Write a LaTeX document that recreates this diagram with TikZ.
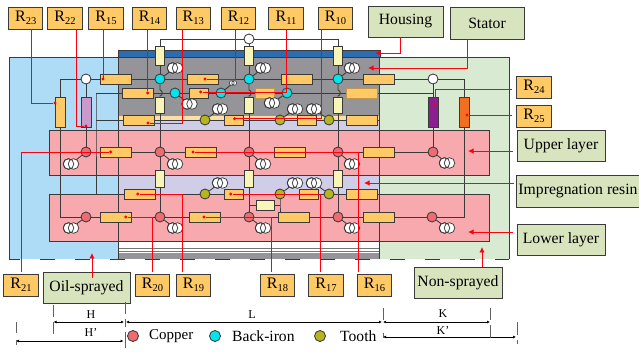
\documentclass[tikz,border=0pt]{standalone}
\usepackage{fontspec}
\setmainfont{Liberation Serif}
\usetikzlibrary{arrows.meta,calc}
\pgfdeclarelayer{regions}
\pgfdeclarelayer{wires}
\pgfsetlayers{regions,wires,main}
\definecolor{oilblue}{HTML}{AEDCF6}
\definecolor{drygreen}{HTML}{D8EAD2}
\definecolor{coilpink}{HTML}{F8A9AE}
\definecolor{resinlilac}{HTML}{CFCDE8}
\definecolor{coregray}{HTML}{959599}
\definecolor{housingblue}{HTML}{2A6DB3}
\definecolor{resorange}{HTML}{FFC966}
\definecolor{respale}{HTML}{F9F5B8}
\definecolor{labelgreen}{HTML}{D8E4BE}
\definecolor{copperc}{HTML}{EE6B72}
\definecolor{ironc}{HTML}{00E5EE}
\definecolor{toothc}{HTML}{B5B520}
\definecolor{wirec}{HTML}{3A3A3A}
\definecolor{redc}{HTML}{FF0010}
\definecolor{resmauve}{HTML}{CC99CC}
\definecolor{respurple}{HTML}{8A1F8F}
\definecolor{resdeep}{HTML}{F26F21}
\tikzset{
  x=1pt,y=-1pt,
  wire/.style={draw=wirec,line width=.85pt},
  edge line/.style={draw=wirec,line width=.9pt},
  resbox/.style={rectangle,draw=wirec,line width=.95pt,fill=resorange,inner sep=0pt,minimum width=31,minimum height=10},
  ressmall/.style={resbox,minimum width=19},
  resfaint/.style={draw=resorange!75!black,line width=.6pt},
  resvert/.style={rectangle,draw=wirec,line width=.95pt,fill=respale,inner sep=0pt,minimum width=9,minimum height=17},
  restall/.style={rectangle,draw=wirec,line width=.95pt,inner sep=0pt,minimum width=10,minimum height=30},
  junction/.style={circle,draw=wirec,line width=.85pt,inner sep=0pt,minimum size=10},
  copperj/.style={junction,fill=copperc},
  ironj/.style={junction,fill=ironc},
  toothj/.style={junction,fill=toothc},
  openj/.style={junction,fill=white},
  ringanchor/.style={circle,inner sep=0pt,minimum size=11},
  ringline/.style={draw=wirec,line width=.75pt,fill=white},
  rlabel/.style={rectangle,draw=wirec,line width=.95pt,fill=resorange,inner sep=0pt,minimum width=34.5,minimum height=22},
  glabel/.style={rectangle,draw=wirec,line width=.95pt,fill=labelgreen,inner sep=0pt,font=\fontsize{15.7}{16}\selectfont},
  reddot/.style={circle,fill=redc,inner sep=0pt,minimum size=3.4},
  leader/.style={draw=redc,line width=.85pt},
  callout/.style={draw=redc,line width=.95pt,-{Latex[length=5.5pt,width=5.5pt]}},
  dim/.style={draw=black,line width=.65pt,{Latex[length=3pt,width=3pt]}-{Latex[length=3pt,width=3pt]}},
  tickm/.style={draw=wirec!80,line width=.8pt},
  dimtext/.style={inner sep=0pt,font=\fontsize{12}{13}\selectfont},
  legendtext/.style={inner sep=0pt,anchor=west},
}
\newcommand\rtext[1]{\fontsize{16}{16}\selectfont R{\fontsize{10.5}{10.5}\selectfont\raisebox{-2.6pt}{#1}}}
\newcommand\lossring[3]{%
  \node[ringanchor] (#1) at (#2,#3) {};
  \draw[ringline] (#2-2.5,#3) circle (5.3);
  \draw[ringline] (#2+2.5,#3) circle (5.3);
  \draw[draw=wirec,line width=.75pt] (#2-2.5,#3) circle (5.3);
}
\begin{document}
\begin{tikzpicture}
\useasboundingbox (0,0) rectangle (639,352);
% ---- regions
\begin{pgfonlayer}{regions}
  \fill[oilblue] (9,57) rectangle (118,259);
  \fill[drygreen] (379,57) rectangle (509,259);
  \fill[coregray] (118,57) rectangle (379,116.5);
  \fill[respale!70!orange!70!white] (118,116.5) rectangle (379,120);
  \fill[resinlilac] (118,120) rectangle (379,130);
  \fill[resinlilac] (118,175) rectangle (379,194);
  \fill[white] (118,241) rectangle (379,253);
  \fill[coregray] (118,253) rectangle (379,259);
  \draw[draw=wirec!70,line width=.9pt] (118,248) -- (379,248) (118,251) -- (379,251);
  \draw[edge line,fill=coilpink] (49,130) rectangle (489,175);
  \draw[edge line,fill=coilpink] (49,194) rectangle (489,241);
  \draw[edge line,fill=housingblue] (118,50) rectangle (380,57);
  \draw[edge line] (118,57) -- (9,57) -- (9,259);
  \draw[edge line] (380,57) -- (509,57) -- (509,259);
  \draw[edge line,dash pattern=on 15pt off 20pt,dash phase=4pt] (9,259) -- (509,259);
\end{pgfonlayer}
\begin{pgfonlayer}{wires}
  \draw[edge line] (118,57) -- (118,259);
  \draw[edge line] (379,57) -- (379,259);
\end{pgfonlayer}
% ---- resistors
\node[resbox] (r11) at (115.5,79) {};
\node[resbox] (r12) at (202.5,79) {};
\node[resbox] (r13) at (296.5,79) {};
\node[resbox] (r14) at (379,79) {};
\node[resbox] (r21) at (137.5,93) {};
\node[ressmall] (r22) at (199,93) {};
\node[ressmall,resfaint] (r23) at (264.5,93) {};
\node[resbox,resfaint] (r24) at (361.5,93) {};
\node[resbox] (r31) at (139,120) {};
\node[ressmall] (r32) at (233.5,120) {};
\node[ressmall] (r33) at (307,120) {};
\node[resbox] (r34) at (361.5,120) {};
\node[resbox] (u1) at (115.5,152) {};
\node[resbox] (u2) at (201,152) {};
\node[resbox] (u3) at (289.5,152) {};
\node[resbox] (u4) at (378.5,152) {};
\node[resbox] (m1) at (139.5,194) {};
\node[ressmall] (m2) at (233.5,194) {};
\node[ressmall] (m3) at (308.5,194) {};
\node[resbox] (m4) at (361.5,194) {};
\node[resbox] (l1) at (115.5,217) {};
\node[resbox] (l2) at (204.5,217) {};
\node[resbox] (l3) at (293.5,217) {};
\node[resbox] (l4) at (378.5,217) {};
\node[resvert,minimum height=18.5] (vt1) at (160,56) {};
\node[resvert,minimum height=18.5] (vt2) at (249,56) {};
\node[resvert,minimum height=18.5] (vt3) at (338,56) {};
\node[resvert,minimum height=16] (vm1) at (160,105) {};
\node[resvert,minimum height=16] (vm2) at (249,105) {};
\node[resvert,minimum height=16] (vm3) at (338,105) {};
\node[resvert] (vb1) at (160,178.5) {};
\node[resvert] (vb2) at (249,178.5) {};
\node[resvert] (vb3) at (338,178.5) {};
\node[resbox,fill=respale,minimum width=18] (hb) at (265,205) {};
\node[restall,fill=resorange] (ra) at (60,112) {};
\node[restall,fill=resmauve] (rb) at (86,112) {};
\node[restall,fill=respurple] (rc) at (433,112) {};
\node[restall,fill=resdeep] (rd) at (464,112) {};
% ---- junctions
\node[openj] (wt) at (249,39) {};
\node[openj] (wl) at (86,79) {};
\node[openj] (wr) at (433,79) {};
\node[ironj] (i1) at (160,79) {};
\node[ironj] (i2) at (249,79) {};
\node[ironj] (i3) at (338,79) {};
\node[ironj] (i4) at (175,93) {};
\node[ironj] (i5) at (221,93) {};
\node[ironj] (i6) at (287,93) {};
\node[toothj] (t1) at (205,120) {};
\node[toothj] (t2) at (280,120) {};
\node[toothj] (t3) at (329,120) {};
\node[toothj] (t4) at (205,194) {};
\node[toothj] (t5) at (280,194) {};
\node[toothj] (t6) at (329,194) {};
\node[copperj] (cu0) at (86,152) {};
\node[copperj] (cu1) at (160,152) {};
\node[copperj] (cu2) at (249,152) {};
\node[copperj] (cu3) at (338,152) {};
\node[copperj] (cu4) at (433,152) {};
\node[copperj] (cl0) at (86,217) {};
\node[copperj] (cl1) at (160,217) {};
\node[copperj] (cl2) at (249,217) {};
\node[copperj] (cl3) at (338,217) {};
\node[copperj] (cl4) at (432,217) {};
% ---- wire corners
\coordinate (cnA) at (96,93);
\coordinate (cnB) at (96,120);
\coordinate (cnC) at (96,194);
\coordinate (cnD) at (433,93);
\coordinate (cnE) at (379,120);
\coordinate (cnF) at (379,194);
\coordinate (cnG) at (280,205);
\coordinate (cnH) at (249,205);
\coordinate (cnI) at (280,212);
% ---- wires
\begin{pgfonlayer}{wires}
  \draw[wire] (vt1.north) |- (wt);
  \draw[wire] (wt) -| (vt3.north);
  \draw[wire] (wt) -- (vt2.north);
  \draw[wire] (vt1) -- (i1);
  \draw[wire] (vt2) -- (i2);
  \draw[wire] (vt3) -- (i3);
  \draw[wire] (i1) -- (160,90) .. controls (163,90.5) and (163,95.5) .. (160,96) -- (vm1.north);
  \draw[wire] (i2) -- (249,90) .. controls (252,90.5) and (252,95.5) .. (249,96) -- (vm2.north);
  \draw[wire] (i3) -- (338,90) .. controls (341,90.5) and (341,95.5) .. (338,96) -- (vm3.north);
  \draw[wire] (vm1) -- (vb1) -- (cl1);
  \draw[wire] (vm2) -- (vb2) -- (cl2);
  \draw[wire] (vm3) -- (vb3) -- (cl3);
  % row 1
  \draw[wire] (ra.north) |- (wl);
  \draw[wire] (wl) -- (r11);
  \draw[wire] (r11) -- (i1) -- (r12) -- (i2) -- (r13) -- (i3) -- (r14) -- (wr);
  \draw[wire] (wr) -| (rd.north);
  \draw[wire] (wl) -- (rb.north);
  \draw[wire] (wr) -- (rc.north);
  % row 2
  \draw[wire] (cnA) -- (r21) -- (i4) -- (r22) -- (i5) -- (r23) -- (i6) -- (r24) -- (cnD);
  \draw[wire] (cnA) -- (cnB) -- (cnC);
  % row 3
  \draw[wire] (cnB) -- (r31) -- (t1) -- (r32) -- (t2) -- (r33) -- (t3) -- (r34) -- (cnE);
  % upper layer
  \draw[wire] (rb.south) -- (cu0);
  \draw[wire] (rc.south) -- (cu4);
  \draw[wire] (cu0) -- (u1) -- (cu1) -- (u2) -- (cu2) -- (u3) -- (cu3) -- (u4) -- (cu4);
  % middle row
  \draw[wire] (m1) -- (t4) -- (m2) -- (t5) -- (m3) -- (t6) -- (m4) -- (cnF);
  \draw[wire] (cnH) -- (hb) -- (cnG);
  \draw[wire] (t5) -- (cnG) -- (cnI);
  % lower layer
  \draw[wire] (ra.south) |- (cl0);
  \draw[wire] (rd.south) |- (cl4);
  \draw[wire] (cl0) -- (l1) -- (cl1) -- (l2) -- (cl2) -- (l3) -- (cl3) -- (l4) -- (cl4);
\end{pgfonlayer}
% ---- loss sources
\lossring{s1}{175}{68}
\lossring{s2}{189.5}{104}
\lossring{s3}{220}{109}
\lossring{s5}{263}{68}
\lossring{s6}{272}{103}
\lossring{s7}{295}{109}
\lossring{s8}{314}{109}
\lossring{s9}{352}{68}
\lossring{s10}{71}{164}
\lossring{s11}{175}{164}
\lossring{s12}{263}{164}
\lossring{s13}{352}{164}
\lossring{s14}{447}{163}
\lossring{s15}{71}{228}
\lossring{s16}{175}{228}
\lossring{s17}{263}{228}
\lossring{s18}{352}{228}
\lossring{s19}{447}{228}
\lossring{s20}{220}{183}
\lossring{s21}{295}{183}
\lossring{s22}{314}{183}
\node[circle,inner sep=0pt,minimum size=5] (s4) at (233,83) {};
\draw[draw=wirec,line width=.6pt,fill=white] (231.8,83) circle (2.4) (234.2,83) circle (2.4);
\begin{pgfonlayer}{wires}
  \draw[wire] (i1) -- (s1);
  \draw[wire] (i4) -- (s2);
  \draw[wire] (t1) -- (s3);
  \draw[wire] (i5) -- (s4);
  \draw[wire] (i2) -- (s5);
  \draw[wire] (i6) -- (s6);
  \draw[wire] (t2) -- (s7);
  \draw[wire] (t3) -- (s8);
  \draw[wire] (i3) -- (s9);
  \draw[wire] (cu0) -- (s10);
  \draw[wire] (cu1) -- (s11);
  \draw[wire] (cu2) -- (s12);
  \draw[wire] (cu3) -- (s13);
  \draw[wire] (cu4) -- (s14);
  \draw[wire] (cl0) -- (s15);
  \draw[wire] (cl1) -- (s16);
  \draw[wire] (cl2) -- (s17);
  \draw[wire] (cl3) -- (s18);
  \draw[wire] (cl4) -- (s19);
  \draw[wire] (t4) -- (s20);
  \draw[wire] (t5) -- (s21);
  \draw[wire] (t6) -- (s22);
\end{pgfonlayer}
% ---- R labels
\node[rlabel] (R23) at (25.7,18) {\rtext{23}};
\node[rlabel] (R22) at (65,18) {\rtext{22}};
\node[rlabel] (R15) at (106,18) {\rtext{15}};
\node[rlabel] (R14) at (149.5,18) {\rtext{14}};
\node[rlabel] (R13) at (193.3,18) {\rtext{13}};
\node[rlabel] (R12) at (238.5,18) {\rtext{12}};
\node[rlabel] (R11) at (286,18) {\rtext{11}};
\node[rlabel] (R10) at (335.5,18) {\rtext{10}};
\node[rlabel] (R24) at (534,87) {\rtext{24}};
\node[rlabel] (R25) at (534,116) {\rtext{25}};
\node[rlabel] (R21) at (21,285) {\rtext{21}};
\node[rlabel] (R20) at (152.5,285) {\rtext{20}};
\node[rlabel] (R19) at (193.5,285) {\rtext{19}};
\node[rlabel] (R18) at (277.5,285) {\rtext{18}};
\node[rlabel] (R17) at (326,285) {\rtext{17}};
\node[rlabel] (R16) at (374.5,285) {\rtext{16}};
% ---- leader dots
\node[reddot] (d23) at (55,103) {};
\node[reddot] (d22) at (86,126) {};
\node[reddot] (d15) at (103,79) {};
\node[reddot] (d14) at (147.7,93) {};
\node[reddot] (d13) at (148,123) {};
\node[reddot] (d12) at (205,79) {};
\node[reddot] (d11) at (200.7,92) {};
\node[reddot] (d10) at (234.5,118.7) {};
\node[reddot] (d24) at (435,105) {};
\node[reddot] (d25) at (467,115) {};
\node[reddot] (d21) at (110.7,152) {};
\node[reddot] (d20) at (125.7,217) {};
\node[reddot] (d19) at (137.7,194) {};
\node[reddot] (d18) at (204,217) {};
\node[reddot] (d17) at (230.7,194) {};
\node[reddot] (d16) at (193,152) {};
\draw[leader] ([xshift=5.6pt]R23.south) |- (d23);
\draw[leader] ([xshift=11pt]R22.south) |- (d22);
\draw[leader] ([xshift=-3pt]R15.south) |- (d15);
\draw[leader] ([xshift=-1.8pt]R14.south) -- (d14);
\draw[leader] ([xshift=-11.3pt]R13.south) |- (d13);
\draw[leader] ([xshift=-2.8pt]R12.south) |- (d12);
\draw[leader] (R11.south) |- (d11);
\draw[leader] ([xshift=-14.5pt]R10.south) |- (d10);
\draw[leader,shorten <=4pt] ([yshift=-2pt]R24.west) -| (d24);
\draw[leader,shorten <=4pt] ([yshift=1pt]R25.west) -- (d25);
\draw[leader,shorten <=2pt] (R21.north) |- (d21);
\draw[leader,shorten <=2pt] ([xshift=-.5pt]R20.north) |- (d20);
\draw[leader,shorten <=2pt] ([xshift=-11.2pt]R19.north) |- (d19);
\draw[leader,shorten <=2pt] ([xshift=-5.8pt]R18.north) |- (d18);
\draw[leader,shorten <=2pt] ([xshift=-5.3pt]R17.north) |- (d17);
\draw[leader,shorten <=2pt] ([xshift=-15.8pt]R16.north) |- (d16);
% ---- green labels
\node[glabel,minimum width=75,minimum height=31] (housing) at (405.5,21.5) {Housing};
\node[glabel,minimum width=74,minimum height=32] (stator) at (487,23) {Stator};
\node[glabel,minimum width=88,minimum height=31] (upper) at (561,145.5) {Upper layer};
\node[glabel,minimum width=123,minimum height=32] (resin) at (578,191) {Impregnation resin};
\node[glabel,minimum width=88,minimum height=31] (lower) at (561,239.5) {Lower layer};
\node[glabel,minimum width=88,minimum height=31] (nonspr) at (458,282.5) {Non-sprayed};
\node[glabel,minimum width=87,minimum height=31] (oilspr) at (86.5,287.5) {Oil-sprayed};
\coordinate (thousing) at (375,53);
\coordinate (tstator) at (368,68);
\coordinate (tupper) at (468,151);
\coordinate (tresin) at (364,183);
\coordinate (tlower) at (468,232);
\coordinate (tnon) at (482,247);
\coordinate (toil) at (92,253);
\draw[callout] ([xshift=-5.5pt]housing.south) |- (thousing);
\draw[callout] ([xshift=-20pt]stator.south) |- (tstator);
\draw[callout,shorten <=4pt] ([yshift=-5.5pt]upper.west) -- (tupper);
\draw[callout,shorten <=2pt] ([yshift=8pt]resin.west) -- (tresin);
\draw[callout,shorten <=4pt] ([yshift=7.5pt]lower.west) -- (tlower);
\draw[callout] ([xshift=24pt]nonspr.north) -- (tnon);
\draw[callout,shorten <=-6pt] ([xshift=5.5pt]oilspr.north) -- (toil);
% ---- dimensions
\coordinate (dHa) at (53.5,322);
\coordinate (dHb) at (124,322);
\coordinate (dLa) at (126,322);
\coordinate (dLb) at (382,322);
\coordinate (dKa) at (383,322);
\coordinate (dKb) at (490,322);
\coordinate (dPa) at (16,341);
\coordinate (dPb) at (123.5,341);
\coordinate (dQa) at (383,337);
\coordinate (dQb) at (516,337);
\draw[dim] (dHa) -- (dHb);
\draw[dim] (dLa) -- (dLb);
\draw[dim] (dKa) -- (dKb);
\draw[dim] (dPa) -- (dPb);
\draw[dim] (dQa) -- (dQb);
\draw[tickm] (53.3,305) -- (53.3,317) (53.3,322) -- (53.3,334);
\draw[tickm] (125,302) -- (125,314) (125,319) -- (125,327) (125,332) -- (125,348);
\draw[tickm] (16,322) -- (16,333) (16,340) -- (16,345);
\draw[tickm] (383,308) -- (383,320) (383,333) -- (383,338);
\draw[tickm] (490,308) -- (490,320) (490,325) -- (490,338);
\draw[tickm] (517,322) -- (517,335) (517,340) -- (517,344);
\node[dimtext] (lH) at (91,315) {H};
\node[dimtext] (lHp) at (91,333) {H’};
\node[dimtext] (lL) at (252,315) {L};
\node[dimtext] (lK) at (443,314) {K};
\node[dimtext] (lKp) at (443,331) {K’};
% ---- legend
\node[copperj,minimum size=11] (keyA) at (133,336) {};
\node[ironj,minimum size=11] (keyB) at (215,336) {};
\node[toothj,minimum size=11] (keyC) at (320,336) {};
\node[legendtext,font=\fontsize{15}{16}\selectfont] (keyAt) at (149,336.5) {Copper};
\node[legendtext,font=\fontsize{15.6}{16}\selectfont] (keyBt) at (232,336.5) {Back-iron};
\node[legendtext,font=\fontsize{15.6}{16}\selectfont] (keyCt) at (340,336.5) {Tooth};
\end{tikzpicture}
\end{document}
